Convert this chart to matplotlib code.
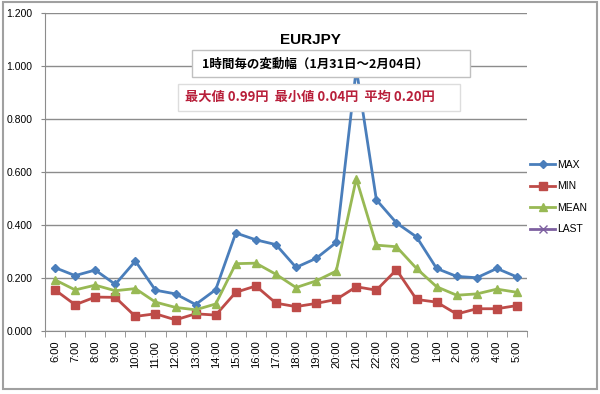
import matplotlib.pyplot as plt
from matplotlib.patches import Rectangle
import numpy as np

plt.rcParams['font.family'] = ['Noto Sans CJK JP', 'DejaVu Sans']

# hours (x categories)
hours = ["6:00", "7:00", "8:00", "9:00", "10:00", "11:00", "12:00", "13:00",
         "14:00", "15:00", "16:00", "17:00", "18:00", "19:00", "20:00", "21:00",
         "22:00", "23:00", "0:00", "1:00", "2:00", "3:00", "4:00", "5:00"]

# hourly range values (yen)
max_vals = [0.239, 0.209, 0.230, 0.176, 0.264, 0.154, 0.140, 0.100,
            0.156, 0.370, 0.344, 0.326, 0.240, 0.274, 0.334, 0.990,
            0.495, 0.408, 0.355, 0.236, 0.206, 0.201, 0.236, 0.204]
min_vals = [0.155, 0.099, 0.128, 0.127, 0.055, 0.065, 0.042, 0.065,
            0.060, 0.146, 0.170, 0.105, 0.092, 0.104, 0.119, 0.167,
            0.154, 0.231, 0.119, 0.109, 0.064, 0.084, 0.084, 0.096]
mean_vals = [0.193, 0.155, 0.173, 0.152, 0.160, 0.109, 0.089, 0.080,
             0.102, 0.254, 0.256, 0.214, 0.164, 0.189, 0.226, 0.575,
             0.324, 0.318, 0.236, 0.167, 0.135, 0.140, 0.158, 0.146]
last_vals = [np.nan] * len(hours)  # LAST has no visible points

LAT = "Liberation Sans"

fig = plt.figure(figsize=(6, 3.94), dpi=100)
W, H = 600, 394
ax = fig.add_axes([45 / W, 1 - 331 / H, (527 - 45) / W, (331 - 13) / H])

x = np.arange(len(hours))
ax.plot(x, max_vals, color="#4A7EBB", marker="D", markersize=4.5, lw=2, label="MAX")
ax.plot(x, min_vals, color="#BE4B48", marker="s", markersize=5.5, lw=2, label="MIN")
ax.plot(x, mean_vals, color="#98B954", marker="^", markersize=6, lw=2, label="MEAN")
ax.plot(x, last_vals, color="#7D60A0", marker="x", markersize=6, lw=2, label="LAST")

ax.set_xlim(-0.5, len(hours) - 0.5)
ax.set_ylim(0, 1.2)
ax.set_yticks(np.arange(0, 1.21, 0.2))
ax.set_yticklabels([f"{v:.3f}" for v in np.arange(0, 1.21, 0.2)], fontsize=7.5,
                   family=LAT)
ax.set_xticks(x)
ax.set_xticklabels(hours, rotation=90, fontsize=8, family=LAT)
ax.set_xticks(np.arange(-0.5, len(hours), 1), minor=True)
ax.tick_params(axis="x", which="major", length=0, pad=7)
ax.tick_params(axis="x", which="minor", length=4, color="#888888")
ax.tick_params(axis="y", length=3, color="#888888", pad=6)
ax.grid(axis="y", color="#8c8c8c", lw=1)
ax.set_axisbelow(True)
for s in ["top", "right"]:
    ax.spines[s].set_visible(False)
for s in ["left", "bottom"]:
    ax.spines[s].set_color("#8c8c8c")

ax.legend(loc="upper left", bbox_to_anchor=(530 / W, 1 - 160 / H),
          bbox_transform=fig.transFigure, frameon=False,
          borderaxespad=0, borderpad=0,
          handlelength=2.4, labelspacing=1.1, handletextpad=0.2,
          prop={"family": LAT, "size": 7.5})

# titles
fig.text(310 / W, 1 - 40 / H, "EURJPY", ha="center", va="center",
         fontsize=11, fontweight="bold", family=LAT)
fig.patches.append(Rectangle((192 / W, 1 - 77 / H), 278 / W, 27 / H,
                             transform=fig.transFigure, fc="white",
                             ec="#c0c0c0", lw=1, zorder=3))
fig.text(202 / W, 1 - 64 / H, "1時間毎の変動幅（1月31日～2月04日）", ha="left",
         va="center", fontsize=9, fontweight="bold", zorder=4)
fig.patches.append(Rectangle((178 / W, 1 - 111 / H), 282 / W, 27 / H,
                             transform=fig.transFigure, fc="white",
                             ec="#dddddd", lw=1, zorder=3))
fig.text(185 / W, 1 - 97 / H, "最大値 0.99円  最小値 0.04円  平均 0.20円",
         ha="left", va="center", fontsize=9.5, fontweight="bold", color="#B81F3A",
         zorder=4)

# chart frame
fig.patches.append(Rectangle((3 / W, 1 - 389 / H), 594 / W, 387 / H,
                             transform=fig.transFigure, fill=False,
                             ec="#a0a0a0", lw=1.5))

fig.savefig("out.png", dpi=100)
